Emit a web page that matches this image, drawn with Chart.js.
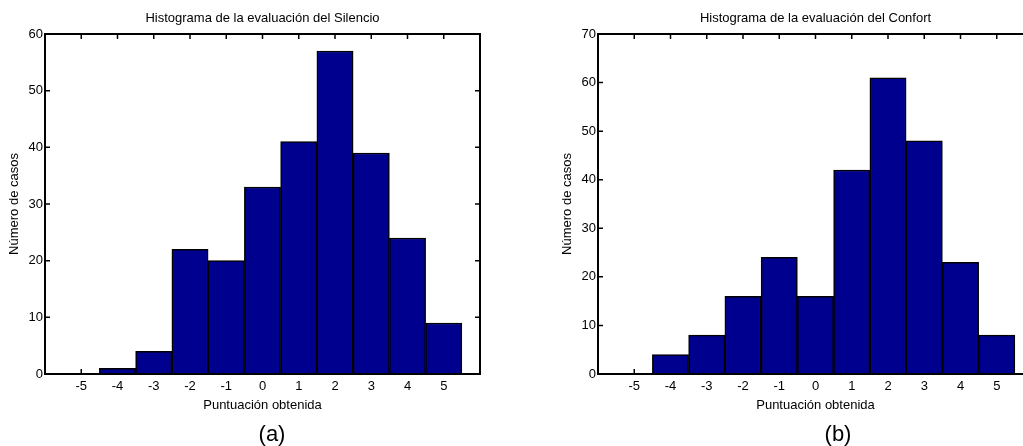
<!DOCTYPE html>
<html>
<head>
<meta charset="utf-8">
<script src="https://cdn.jsdelivr.net/npm/chart.js@4/dist/chart.umd.min.js"></script>
<style>
    html, body { margin: 0; padding: 0; background: #fff; }
    body { width: 1023px; height: 446px; overflow: hidden; position: relative; }
    canvas { position: absolute; top: 0; }
    #silencio { left: 0; }
    #confort { left: 553px; }
    .cap { position: absolute; top: 421px; font: 22px "Liberation Sans", Arial, sans-serif; color: #000; transform: translateX(-50%); }
</style>
</head>
<body>
<canvas id="silencio" width="500" height="446"></canvas>
<canvas id="confort" width="500" height="446"></canvas>
<div class="cap" style="left:272px">(a)</div>
<div class="cap" style="left:838px">(b)</div>
<script>
var scores = [-5, -4, -3, -2, -1, 0, 1, 2, 3, 4, 5];
var silencio = [0, 1, 4, 22, 20, 33, 41, 57, 39, 24, 9];
var confort = [0, 4, 8, 16, 24, 16, 42, 61, 48, 23, 8];
var xTicks = [-5, -4, -3, -2, -1, 0, 1, 2, 3, 4, 5];
var silencioTicks = [0, 10, 20, 30, 40, 50, 60];
var confortTicks = [0, 10, 20, 30, 40, 50, 60, 70];

var font = "'Liberation Sans', Arial, sans-serif";

// matlab style box with ticks pointing inwards
var boxTicks = {
    id: 'boxTicks',
    beforeDatasetsDraw: function (chart) {
        var ctx = chart.ctx, a = chart.chartArea;
        var x = chart.scales.x, y = chart.scales.y;
        ctx.save();
        ctx.strokeStyle = '#000';
        ctx.lineWidth = 1.5;
        ctx.beginPath();
        x.ticks.forEach(function (t) {
            var px = x.getPixelForValue(t.value);
            ctx.moveTo(px, a.bottom); ctx.lineTo(px, a.bottom - 5);
            ctx.moveTo(px, a.top); ctx.lineTo(px, a.top + 5);
        });
        y.ticks.forEach(function (t) {
            var py = y.getPixelForValue(t.value);
            ctx.moveTo(a.left, py); ctx.lineTo(a.left + 5, py);
            ctx.moveTo(a.right, py); ctx.lineTo(a.right - 5, py);
        });
        ctx.stroke();
        ctx.restore();
    },
    afterDatasetsDraw: function (chart) {
        var ctx = chart.ctx, a = chart.chartArea;
        ctx.save();
        ctx.strokeStyle = '#000';
        ctx.lineWidth = 2;
        ctx.strokeRect(a.left, a.top, a.right - a.left, a.bottom - a.top);
        ctx.restore();
    }
};

function histogram(id, title, values, yTicks) {
    var ctx = document.getElementById(id).getContext('2d');
    var points = scores.map(function (s, i) { return {x: s, y: values[i]}; });
    return new Chart(ctx, {
        type: 'bar',
        data: {
            datasets: [{
                data: points,
                backgroundColor: '#00008f',
                borderColor: '#000',
                borderWidth: 1.5,
                barPercentage: 1,
                categoryPercentage: 1
            }]
        },
        options: {
            responsive: false,
            animation: false,
            layout: {padding: {left: 0, right: 20, top: 0, bottom: 24}},
            plugins: {
                legend: {display: false},
                tooltip: {enabled: false},
                title: {
                    display: true,
                    text: title,
                    fullSize: false,
                    color: '#000',
                    font: {family: font, size: 13, weight: 'normal'},
                    padding: {top: 10.2, bottom: 8.2}
                }
            },
            scales: {
                x: {
                    type: 'linear',
                    min: -6,
                    max: 6,
                    offset: false,
                    grid: {display: false, drawTicks: false, offset: false},
                    border: {display: false},
                    afterBuildTicks: function (scale) {
                        scale.ticks = xTicks.map(function (v) { return {value: v}; });
                    },
                    afterFit: function (scale) { scale.height = 48; },
                    ticks: {color: '#000', padding: 5, maxRotation: 0, font: {family: font, size: 13}},
                    title: {
                        display: true,
                        text: 'Puntuación obtenida',
                        color: '#000',
                        font: {family: font, size: 13},
                        padding: {top: 0, bottom: 9.2}
                    }
                },
                y: {
                    min: 0,
                    max: yTicks[yTicks.length - 1],
                    grid: {display: false, drawTicks: false},
                    border: {display: false},
                    afterBuildTicks: function (scale) {
                        scale.ticks = yTicks.map(function (v) { return {value: v}; });
                    },
                    afterFit: function (scale) { scale.width = 45; },
                    ticks: {color: '#000', padding: 2, font: {family: font, size: 13}},
                    title: {
                        display: true,
                        text: 'Número de casos',
                        color: '#000',
                        font: {family: font, size: 13},
                        padding: {top: 6.2, bottom: 0}
                    }
                }
            }
        },
        plugins: [boxTicks]
    });
}

histogram('silencio', 'Histograma de la evaluación del Silencio', silencio, silencioTicks);
histogram('confort', 'Histograma de la evaluación del Confort', confort, confortTicks);
</script>
</body>
</html>
